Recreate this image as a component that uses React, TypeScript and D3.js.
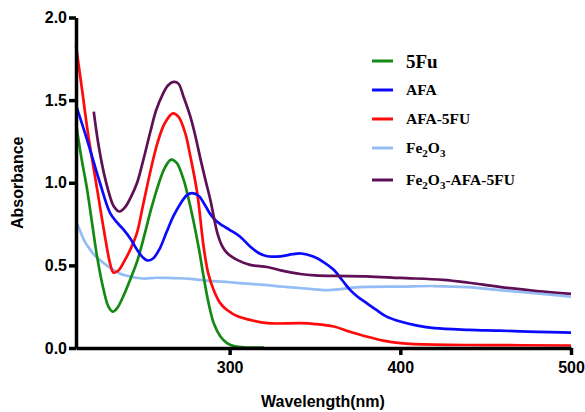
import React, {useEffect, useRef} from 'react';
import * as d3 from 'd3';

type Pt = [number, number];

// [wavelength nm, absorbance]
const fu5: Pt[] = [
    [210, 1.36], [213, 1.16], [216.5, 0.96], [219.5, 0.75], [222.4, 0.55], [226, 0.36], [229, 0.25],
    [231.5, 0.22], [234, 0.24], [238, 0.32], [242, 0.42], [246, 0.53], [250, 0.68], [254, 0.84],
    [258, 0.98], [262, 1.09], [265.7, 1.14], [269, 1.12], [273, 1.02], [276, 0.9], [279, 0.76],
    [282, 0.6], [284.8, 0.43], [287.5, 0.28], [290.7, 0.15], [294.6, 0.07], [298.5, 0.03],
    [303, 0.01], [310, 0.003], [320, 0.002]
];

const afa: Pt[] = [
    [210, 1.47], [216.5, 1.26], [224, 1.0], [230, 0.816], [234, 0.76], [238, 0.715], [242, 0.66],
    [245.8, 0.594], [249, 0.55], [251.7, 0.53], [255, 0.54], [259, 0.6], [263, 0.7], [267, 0.796],
    [271, 0.87], [275, 0.925], [278, 0.937], [282, 0.92], [285, 0.875], [288.7, 0.81], [292, 0.77],
    [296, 0.74], [300, 0.715], [306, 0.675], [312, 0.614], [317, 0.575], [322, 0.555], [330, 0.555],
    [337, 0.568], [342, 0.572], [349, 0.553], [355, 0.52], [361, 0.473], [366, 0.41], [370.7, 0.35],
    [375, 0.31], [380.5, 0.27], [386, 0.23], [392, 0.19], [400, 0.16], [410, 0.135], [420, 0.12],
    [440, 0.11], [458, 0.105], [480, 0.098], [500, 0.093]
];

const afa5fu: Pt[] = [
    [210, 1.83], [213.6, 1.56], [217, 1.3], [222.4, 0.96], [227.3, 0.655], [230, 0.51], [232, 0.456],
    [235, 0.47], [238, 0.52], [242, 0.6], [245.8, 0.7], [249, 0.85], [253.6, 1.07], [258, 1.25],
    [262, 1.36], [266.7, 1.42], [270, 1.4], [274, 1.3], [277, 1.16], [281, 0.94], [284.8, 0.61],
    [287.5, 0.45], [290.7, 0.35], [294.6, 0.27], [298.5, 0.23], [305, 0.19], [312, 0.17], [322, 0.15],
    [341.5, 0.15], [350, 0.145], [361, 0.13], [370, 0.1], [380, 0.07], [390, 0.045], [400, 0.03],
    [420, 0.02], [450, 0.018], [500, 0.015]
];

const fe2o3: Pt[] = [
    [210, 0.765], [212, 0.72], [214.6, 0.655], [218, 0.6], [221, 0.56], [224, 0.533], [228, 0.5],
    [232, 0.473], [236, 0.45], [240, 0.437], [245, 0.425], [250, 0.42], [257, 0.425], [263, 0.424],
    [270, 0.422], [277, 0.418], [283, 0.412], [290, 0.405], [300, 0.398], [312, 0.388], [322, 0.38],
    [330, 0.372], [341, 0.363], [350, 0.355], [357, 0.35], [365, 0.356], [372, 0.365], [380, 0.37],
    [400, 0.372], [420, 0.375], [440, 0.368], [458, 0.35], [480, 0.33], [500, 0.31]
];

const feAfa5fu: Pt[] = [
    [220.4, 1.43], [223, 1.24], [226.3, 1.06], [229, 0.95], [232, 0.86], [235.6, 0.826], [239, 0.855],
    [242, 0.91], [245.8, 1.0], [249, 1.12], [253.6, 1.31], [257, 1.44], [261, 1.54], [264, 1.59],
    [267.2, 1.61], [270, 1.6], [273, 1.52], [277, 1.4], [280, 1.28], [283, 1.14], [286, 1.01],
    [288.7, 0.897], [292.7, 0.7], [295.5, 0.62], [298.5, 0.575], [305, 0.53], [312, 0.503], [322, 0.49],
    [330, 0.47], [341.5, 0.448], [350, 0.44], [361, 0.436], [380, 0.434], [400, 0.424], [425, 0.412],
    [440, 0.395], [458, 0.37], [480, 0.345], [500, 0.327]
];

const xTicks = [300, 400, 500];
const yTicks = [0, 0.5, 1.0, 1.5, 2.0];

const series = [
    {key: '5Fu', data: fu5, color: '#138a13'},
    {key: 'AFA', data: afa, color: '#0a0aff'},
    {key: 'AFA-5FU', data: afa5fu, color: '#ff0a0a'},
    {key: 'Fe2O3', data: fe2o3, color: '#94bdf5'},
    {key: 'Fe2O3-AFA-5FU', data: feAfa5fu, color: '#5e0f55'}
];

// draw order (bottom to top)
const drawOrder = ['Fe2O3', '5Fu', 'AFA-5FU', 'AFA', 'Fe2O3-AFA-5FU'];

const W = 585;
const H = 412;

const App = () => {
    const svgRef = useRef<SVGSVGElement>(null);

    useEffect(() => {
        const svg = d3.select(svgRef.current);
        svg.selectAll('*').remove();

        const x = d3.scaleLinear().domain([210, 500]).range([76, 571]);
        const y = d3.scaleLinear().domain([0, 2]).range([348, 17.5]);

        const line = d3.line<Pt>()
            .x(d => x(d[0]))
            .y(d => y(d[1]))
            .curve(d3.curveCatmullRom.alpha(0.5));

        // Curves
        drawOrder.forEach(k => {
            const s = series.find(d => d.key === k)!;
            svg.append('path')
                .datum(s.data)
                .attr('d', line)
                .attr('fill', 'none')
                .attr('stroke', s.color)
                .attr('stroke-width', 2.7);
        });

        // Axes
        const font = '"Liberation Sans", Arial, sans-serif';
        const yAxis = svg.append('g')
            .attr('transform', `translate(${x(210)},0)`)
            .call(d3.axisLeft(y).tickValues(yTicks).tickFormat(d3.format('.1f')).tickSize(7).tickSizeOuter(0).tickPadding(2));
        const xAxis = svg.append('g')
            .attr('transform', `translate(0,${y(0)})`)
            .call(d3.axisBottom(x).tickValues(xTicks).tickFormat(d3.format('d')).tickSize(7).tickSizeOuter(0).tickPadding(7));

        [xAxis, yAxis].forEach(g => {
            g.select('.domain').attr('stroke', '#000').attr('stroke-width', 3.5);
            g.selectAll('.tick line').attr('stroke', '#000').attr('stroke-width', 3.5);
            g.selectAll('.tick text')
                .attr('fill', '#000')
                .style('font-family', font)
                .style('font-size', '16px')
                .style('font-weight', 'bold');
        });

        svg.append('text')
            .attr('x', 323)
            .attr('y', 407)
            .attr('text-anchor', 'middle')
            .style('font-family', font)
            .style('font-size', '16px')
            .style('font-weight', 'bold')
            .text('Wavelength(nm)');

        svg.append('text')
            .attr('transform', `translate(23,${(y(0) + y(2)) / 2}) rotate(-90)`)
            .attr('text-anchor', 'middle')
            .style('font-family', font)
            .style('font-size', '16px')
            .style('font-weight', 'bold')
            .text('Absorbance');

        // Legend
        const legendY = [61, 90, 119, 148, 180];
        const legend = svg.append('g')
            .style('font-family', '"Liberation Serif", "Times New Roman", serif')
            .style('font-weight', 'bold');

        series.forEach((s, i) => {
            const ly = legendY[i];
            legend.append('line')
                .attr('x1', 372).attr('x2', 393)
                .attr('y1', ly).attr('y2', ly)
                .attr('stroke', s.color)
                .attr('stroke-width', 3);
            const t = legend.append('text')
                .attr('x', 406)
                .attr('y', ly)
                .attr('dy', '0.35em')
                .style('font-size', i === 0 ? '19px' : '15.5px');
            if (s.key.startsWith('Fe2O3')) {
                t.append('tspan').text('Fe');
                t.append('tspan').attr('dy', 4).style('font-size', '11px').text('2');
                t.append('tspan').attr('dy', -4).text('O');
                t.append('tspan').attr('dy', 4).style('font-size', '11px').text('3');
                t.append('tspan').attr('dy', -4).text(s.key.slice(5));
            } else {
                t.text(s.key);
            }
        });
    }, []);

    return (
        <svg ref={svgRef} width={W} height={H}
             style={{position: 'absolute', left: 0, top: 0, background: '#fff'}}></svg>
    );
};

export default App;
